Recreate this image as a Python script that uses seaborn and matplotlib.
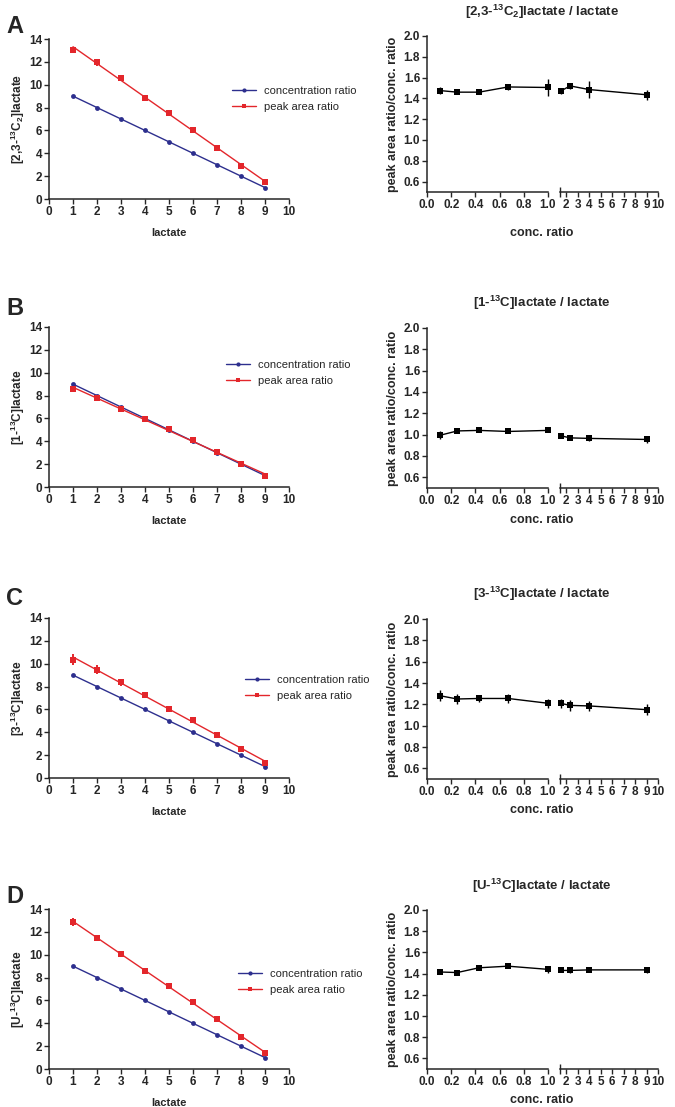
import numpy as np
import pandas as pd
import matplotlib
matplotlib.use("Agg")
import matplotlib.pyplot as plt
import seaborn as sns
from matplotlib.lines import Line2D

sns.set_style("ticks")
plt.rcParams['font.family'] = ['Liberation Sans', 'DejaVu Sans']
plt.rcParams['mathtext.fontset'] = 'custom'
plt.rcParams['mathtext.rm'] = 'Liberation Sans'
plt.rcParams['mathtext.bf'] = 'Liberation Sans:bold'
plt.rcParams['mathtext.default'] = 'bf'

# ---- data ----
lactate = [1, 2, 3, 4, 5, 6, 7, 8, 9]
conc_ratio = [9, 8, 7, 6, 5, 4, 3, 2, 1]

peak_a = [13.04, 11.95, 10.6, 8.86, 7.55, 6.03, 4.43, 2.92, 1.52]
peak_a_err = [0.25, 0.3, 0.08, 0.08, 0.15, 0.08, 0.05, 0.05, 0.05]
peak_b = [8.55, 7.75, 6.85, 5.95, 5.1, 4.1, 3.05, 2.05, 0.97]
peak_b_err = [0.25, 0.15, 0.1, 0.15, 0.15, 0.08, 0.08, 0.06, 0.05]
peak_c = [10.36, 9.47, 8.37, 7.29, 6.06, 5.07, 3.79, 2.54, 1.31]
peak_c_err = [0.5, 0.4, 0.3, 0.25, 0.22, 0.18, 0.1, 0.08, 0.1]
peak_d = [12.89, 11.49, 10.03, 8.57, 7.25, 5.88, 4.36, 2.81, 1.43]
peak_d_err = [0.35, 0.2, 0.15, 0.08, 0.2, 0.08, 0.06, 0.06, 0.06]

ratio_x = [0.11, 0.25, 0.43, 0.67, 1.0, 1.5, 2.33, 4.0, 9.0]
ratio_a = [1.475, 1.46, 1.46, 1.51, 1.505, 1.47, 1.52, 1.485, 1.435]
ratio_a_err = [0.03, 0.015, 0.02, 0.025, 0.08, 0.025, 0.03, 0.085, 0.05]
ratio_b = [0.995, 1.035, 1.04, 1.03, 1.04, 0.99, 0.97, 0.965, 0.955]
ratio_b_err = [0.035, 0.01, 0.01, 0.01, 0.01, 0.02, 0.01, 0.02, 0.035]
ratio_c = [1.28, 1.25, 1.255, 1.255, 1.21, 1.21, 1.19, 1.185, 1.15]
ratio_c_err = [0.05, 0.05, 0.03, 0.04, 0.04, 0.04, 0.05, 0.05, 0.05]
ratio_d = [1.415, 1.41, 1.455, 1.47, 1.44, 1.43, 1.43, 1.435, 1.435]
ratio_d_err = [0.01, 0.015, 0.02, 0.01, 0.03, 0.01, 0.02, 0.015, 0.03]

letters = ['A', 'B', 'C', 'D']
ylabels = [r'[2,3-$^{13}$C$_2$]lactate', r'[1-$^{13}$C]lactate',
           r'[3-$^{13}$C]lactate', r'[U-$^{13}$C]lactate']
titles = [r'[2,3-$^{13}$C$_2$]lactate / lactate', r'[1-$^{13}$C]lactate / lactate',
          r'[3-$^{13}$C]lactate / lactate', r'[U-$^{13}$C]lactate / lactate']
peaks = [(peak_a, peak_a_err), (peak_b, peak_b_err), (peak_c, peak_c_err), (peak_d, peak_d_err)]
ratios = [(ratio_a, ratio_a_err), (ratio_b, ratio_b_err), (ratio_c, ratio_c_err), (ratio_d, ratio_d_err)]

BLUE = '#2d2f8e'
RED = '#e3262b'
W, H = 675, 1107

# layout in pixels (top, bottom) for each row
left_rows = [(39, 199), (327, 487), (618, 778), (909, 1069)]
right_rows = [(36, 192), (328, 488), (619, 779), (910, 1069)]
letter_y = [15, 297, 587, 885]
legend_pos = [(232, 99), (226, 373), (245, 688), (238, 982)]
conc_label_y = [233, 520, 810, 1100]
title_y = [12, 303, 594, 886]

fig = plt.figure(figsize=(W / 100, H / 100), dpi=100)


def px_axes(x0, x1, y0, y1):
    return fig.add_axes([x0 / W, 1 - y1 / H, (x1 - x0) / W, (y1 - y0) / H])


def no_clip(container):
    for child in container.get_children():
        child.set_clip_on(False)


TICK_FS = 8.5
LAB_FS = 8.5

for i in range(4):
    # ---------- left panel ----------
    top, bot = left_rows[i]
    ax = px_axes(49, 289, top, bot)
    peak, err = peaks[i]
    sns.lineplot(x=lactate, y=conc_ratio, ax=ax, color=BLUE, marker='o', markersize=3.5,
                 markeredgewidth=0, linewidth=1)
    sns.regplot(x=lactate, y=peak, ax=ax, scatter=False, ci=None, truncate=True,
                line_kws=dict(color=RED, linewidth=1))
    eb = ax.errorbar(lactate, peak, yerr=err, fmt='s', ms=3.8, color=RED, ecolor=RED,
                     elinewidth=1.4, capsize=2.6, capthick=1.4, markeredgewidth=0)
    no_clip(eb)
    ax.set_xlim(0, 10)
    ax.set_ylim(0, 14)
    ax.set_xticks(range(0, 11))
    ax.set_yticks(range(0, 15, 2))
    ax.set_xlabel('lactate', fontsize=8, fontweight='bold', labelpad=7)
    ax.set_ylabel(ylabels[i], fontsize=LAB_FS, fontweight='bold', labelpad=1.5)
    ax.tick_params(labelsize=TICK_FS, width=1, length=3.5, direction='out', pad=1.5)
    for lbl in ax.get_xticklabels() + ax.get_yticklabels():
        lbl.set_fontweight('bold')
    for s in ['left', 'bottom']:
        ax.spines[s].set_linewidth(1.1)
    sns.despine(ax=ax)

    handles = [Line2D([], [], color=BLUE, marker='o', ms=3, lw=1, markeredgewidth=0),
               Line2D([], [], color=RED, marker='s', ms=3, lw=1, markeredgewidth=0)]
    lx, ly = legend_pos[i]
    fig.legend(handles, ['concentration ratio', 'peak area ratio'], loc='center left',
               bbox_to_anchor=(lx / W, 1 - ly / H), frameon=False, fontsize=8,
               handlelength=2.2, handletextpad=0.7, labelspacing=0.5, borderaxespad=0,
               borderpad=0)

    fig.text(6 / W, 1 - letter_y[i] / H, letters[i], fontsize=17, fontweight='bold',
             ha='left', va='top')

    # ---------- right panel (broken x axis) ----------
    top, bot = right_rows[i]
    axl = px_axes(427, 548, top, bot)
    axr = px_axes(560, 658, top, bot)
    vals, verr = ratios[i]
    ebl = axl.errorbar(ratio_x[:5], vals[:5], yerr=verr[:5], fmt='-s', color='black', ms=4,
                       lw=1, elinewidth=1, capsize=2.5, capthick=1, markeredgewidth=0)
    ebr = axr.errorbar(ratio_x[5:], vals[5:], yerr=verr[5:], fmt='-s', color='black', ms=4,
                       lw=1, elinewidth=1, capsize=2.5, capthick=1, markeredgewidth=0)
    no_clip(ebl)
    no_clip(ebr)
    for a in (axl, axr):
        a.set_ylim(0.5, 2.0)
        a.tick_params(labelsize=TICK_FS, width=1, length=3.5, direction='out', pad=1.5)
        for s in ['left', 'bottom']:
            a.spines[s].set_linewidth(1.1)
    axl.set_xlim(0, 1.0)
    axl.set_xticks(np.arange(0, 1.01, 0.2))
    axl.set_xticklabels([f'{v:.1f}' for v in np.arange(0, 1.01, 0.2)])
    axl.set_yticks(np.arange(0.6, 2.01, 0.2))
    axl.set_yticklabels([f'{v:.1f}' for v in np.arange(0.6, 2.01, 0.2)])
    axl.set_xticks([1.0], minor=True)
    axl.tick_params(axis='x', which='minor', direction='inout', length=7, width=1)
    axr.set_xlim(1.45, 10)
    axr.set_xticks(range(2, 11))
    axr.set_xticks([1.45], minor=True)
    axr.tick_params(axis='x', which='minor', direction='inout', length=7, width=1)
    axr.set_yticks([])
    sns.despine(ax=axl)
    sns.despine(ax=axr, left=True)
    for a in (axl, axr):
        for lbl in a.get_xticklabels() + a.get_yticklabels():
            lbl.set_fontweight('bold')
    axl.set_ylabel('peak area ratio/conc. ratio', fontsize=9, fontweight='bold',
                   labelpad=3)
    fig.text(542 / W, 1 - conc_label_y[i] / H, 'conc. ratio', fontsize=9,
             fontweight='bold', ha='center', va='center')
    fig.text(542 / W, 1 - title_y[i] / H, titles[i], fontsize=9.5,
             fontweight='bold', ha='center', va='center')

fig.savefig('out.png', dpi=100)
